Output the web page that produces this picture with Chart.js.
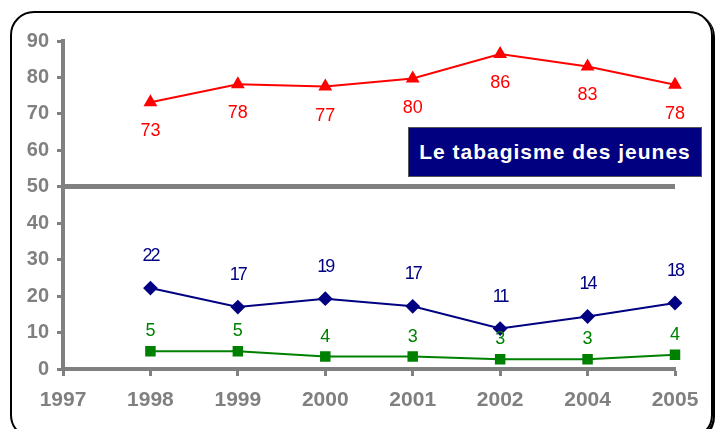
<!DOCTYPE html>
<html>
<head>
<meta charset="utf-8">
<script src="https://cdn.jsdelivr.net/npm/chart.js@4"></script>
<style>
  html, body { margin: 0; padding: 0; background: #fff; }
  #wrap { position: relative; width: 716px; height: 429px; overflow: hidden; }
  #frame {
    position: absolute; left: 10px; top: 11px; width: 703px; height: 428px;
    border: 2px solid #000; border-radius: 24px; box-sizing: border-box;
    box-shadow: 2px 2px 0 #000;
  }
  #chart { position: absolute; left: 0; top: 0; }
  #title {
    position: absolute; left: 408px; top: 127px; width: 294px; height: 50px;
    background: #000080; border: 1px solid #555; box-sizing: border-box;
    color: #fff; font: bold 21px "Liberation Sans", Arial, sans-serif;
    letter-spacing: 1px; line-height: 48px; text-align: center; white-space: nowrap;
  }
</style>
</head>
<body>
<div id="wrap">
  <div id="frame"></div>
  <canvas id="chart" width="716" height="429"></canvas>
  <div id="title">Le tabagisme des jeunes</div>
</div>
<script>
var years = ['1997', '1998', '1999', '2000', '2001', '2002', '2004', '2005'];
var redValues = [null, 73.2, 78.1, 77.5, 79.7, 86.4, 83, 78];
var redLabels = ['', '73', '78', '77', '80', '86', '83', '78'];
var blueValues = [null, 22.2, 17, 19.3, 17.2, 11.1, 14.4, 18.1];
var blueLabels = ['', '22', '17', '19', '17', '11', '14', '18'];
var greenValues = [null, 4.9, 4.9, 3.4, 3.4, 2.7, 2.7, 3.9];
var greenLabels = ['', '5', '5', '4', '3', '3', '3', '4'];
var yTicks = [0, 10, 20, 30, 40, 50, 60, 70, 80, 90];

// point value labels (no datalabels plugin available)
var valueLabels = {
  id: 'valueLabels',
  afterDatasetsDraw: function(chart) {
    var ctx = chart.ctx;
    chart.data.datasets.forEach(function(ds, i) {
      var meta = chart.getDatasetMeta(i);
      ctx.save();
      ctx.fillStyle = ds.borderColor;
      ctx.font = '18px "Liberation Sans", Arial, sans-serif';
      ctx.textAlign = 'center';
      ctx.textBaseline = 'middle';
      if (ds.tightLabels) ctx.letterSpacing = '-2px';
      meta.data.forEach(function(pt, j) {
        var txt = ds.labels[j];
        if (!txt) return;
        ctx.fillText(txt, pt.x, pt.y + ds.labelOffset);
      });
      ctx.restore();
    });
  }
};

new Chart(document.getElementById('chart'), {
  type: 'line',
  data: {
    labels: years,
    datasets: [{
      data: redValues, labels: redLabels, labelOffset: 29,
      borderColor: '#ff0000', backgroundColor: '#ff0000',
      pointStyle: 'triangle', pointRadius: 6, borderWidth: 2
    }, {
      data: blueValues, labels: blueLabels, labelOffset: -32, tightLabels: true,
      borderColor: '#000080', backgroundColor: '#000080',
      pointStyle: 'rectRot', pointRadius: 6, borderWidth: 2
    }, {
      data: greenValues, labels: greenLabels, labelOffset: -20,
      borderColor: '#008000', backgroundColor: '#008000',
      pointStyle: 'rect', pointRadius: 6, borderWidth: 2
    }]
  },
  options: {
    responsive: false,
    animation: false,
    layout: { padding: { top: 41, right: 41, left: 0, bottom: 0 } },
    plugins: { legend: { display: false }, tooltip: { enabled: false } },
    elements: { line: { tension: 0 } },
    scales: {
      x: {
        offset: false,
        grid: { drawOnChartArea: false, color: '#808080', tickLength: 7, tickWidth: 3 },
        border: { color: '#808080', width: 4 },
        ticks: { color: '#808080', font: { family: '"Liberation Sans", Arial', size: 21, weight: 'bold' }, padding: 12, maxRotation: 0, autoSkip: false },
        afterFit: function(s) { s.height = 60; }
      },
      y: {
        min: 0, max: 90,
        afterBuildTicks: function(s) { s.ticks = yTicks.map(function(v) { return { value: v }; }); },
        grid: {
          color: function(c) { return c.tick && c.tick.value === 50 ? '#808080' : 'rgba(0,0,0,0)'; },
          lineWidth: function(c) { return c.tick && c.tick.value === 50 ? 5 : 1; },
          tickColor: '#808080', tickLength: 6, tickWidth: 3
        },
        border: { color: '#808080', width: 4 },
        ticks: { color: '#808080', font: { family: '"Liberation Sans", Arial', size: 20, weight: 'bold' }, padding: 8 },
        afterFit: function(s) { s.width = 63; }
      }
    }
  },
  plugins: [valueLabels]
});
</script>
</body>
</html>
